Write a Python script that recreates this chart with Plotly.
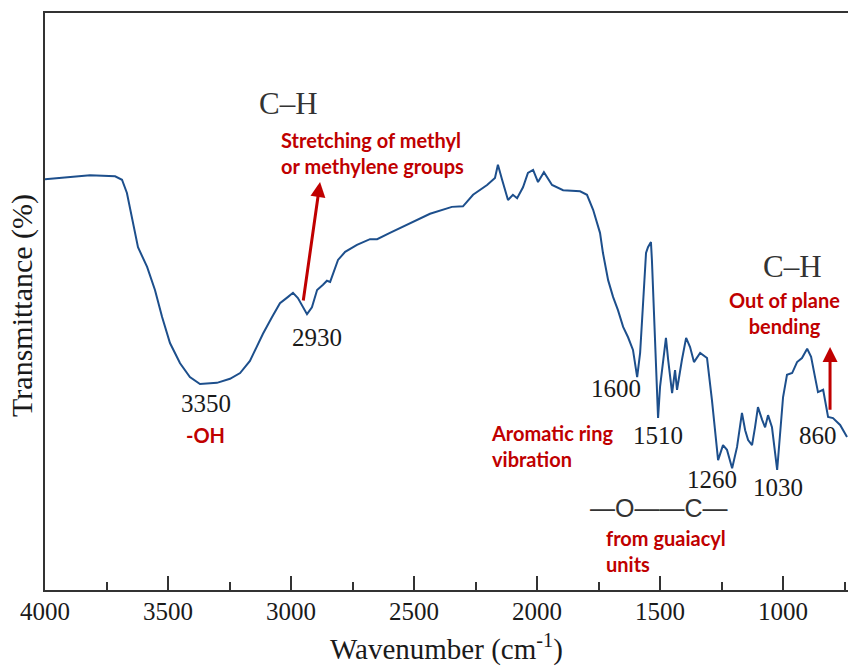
import plotly.graph_objects as go

# FTIR spectrum (wavenumber in cm-1, transmittance in arbitrary %)
wavenumber = [4000, 3898, 3817, 3715, 3687, 3667, 3646, 3622, 3585, 3553, 3524, 3492, 3451, 3411,
              3370, 3301, 3248, 3207, 3167, 3146, 3114, 3077, 3045, 3012, 2992, 2972, 2955, 2935,
              2915, 2894, 2870, 2854, 2841, 2829, 2809, 2780, 2732, 2679, 2650, 2598, 2516, 2435,
              2346, 2301, 2260, 2203, 2171, 2159, 2142, 2118, 2098, 2081, 2057, 2037, 2016, 1996,
              1972, 1939, 1894, 1825, 1797, 1772, 1744, 1732, 1711, 1691, 1671, 1650, 1630, 1610,
              1593, 1581, 1569, 1557, 1549, 1537, 1533, 1520, 1508, 1500, 1488, 1476, 1467, 1451,
              1439, 1431, 1411, 1394, 1378, 1362, 1337, 1309, 1289, 1264, 1244, 1228, 1207, 1187,
              1167, 1154, 1142, 1126, 1114, 1102, 1085, 1073, 1061, 1045, 1024, 1012, 1000, 984,
              963, 943, 923, 902, 886, 870, 858, 837, 817, 797, 768, 740]
transmittance = [71.2, 71.6, 71.9, 71.7, 71.1, 68.8, 64.1, 59.4, 56.0, 52.0, 47.3, 42.8, 39.3, 36.9,
                 35.7, 35.9, 36.6, 37.6, 39.7, 41.6, 44.4, 47.3, 49.7, 50.8, 51.5, 50.6, 49.4, 47.8,
                 49.0, 52.0, 52.9, 53.6, 53.4, 54.9, 57.2, 58.6, 59.8, 60.8, 60.8, 61.9, 63.6, 65.2,
                 66.4, 66.5, 68.5, 70.2, 71.4, 73.7, 71.1, 67.6, 68.5, 67.9, 69.8, 72.3, 72.8, 70.7,
                 72.4, 70.2, 69.3, 69.1, 68.5, 65.9, 61.9, 58.4, 53.7, 50.8, 48.5, 45.6, 43.8, 41.6,
                 36.9, 41.1, 49.7, 58.4, 59.4, 60.3, 57.2, 43.8, 29.8, 35.2, 39.9, 43.7, 39.9, 34.1,
                 38.1, 34.7, 39.9, 43.7, 42.1, 39.5, 41.1, 40.2, 32.9, 22.5, 25.1, 24.3, 21.1, 24.8,
                 30.7, 27.7, 26.0, 25.1, 28.2, 31.7, 29.5, 28.2, 30.3, 28.2, 20.8, 26.5, 33.4, 37.3,
                 37.6, 39.5, 40.2, 41.8, 40.4, 36.9, 34.3, 34.7, 30.0, 29.8, 28.6, 26.5]

tick_values = [4000, 3500, 3000, 2500, 2000, 1500, 1000]
tick_labels = ["4000", "3500", "3000", "2500", "2000", "1500", "1000"]

peak_labels = ["3350", "2930", "1600", "1510", "1260", "1030", "860"]
peak_label_x = [3346, 2894, 1679, 1508, 1289, 1020, 858]
peak_label_y = [32.4, 43.8, 35.0, 26.7, 19.2, 17.7, 26.7]

SERIF = "Liberation Serif"
SANS_RED = "Lato"
RED = "#C00000"
AX = "#333333"
TXT = "#1a1a1a"

fig = go.Figure()
fig.add_trace(go.Scatter(x=wavenumber, y=transmittance, mode="lines",
                         line=dict(color="#1d4f8c", width=2), showlegend=False,
                         hoverinfo="skip"))

ann = []
for t, x, y in zip(peak_labels, peak_label_x, peak_label_y):
    ann.append(dict(x=x, y=y, xref="x", yref="y", text=t, showarrow=False,
                    font=dict(family=SERIF, size=25, color=TXT)))

# x tick labels (serif), placed at the axis tick values
for v, t in zip(tick_values, tick_labels):
    ann.append(dict(x=v, y=-0.0364, xref="x", yref="paper", text=t, showarrow=False,
                    xanchor="center", yanchor="middle",
                    font=dict(family=SERIF, size=25, color=TXT)))

def red(text, x, y, xanchor="center", align="center"):
    return dict(x=x, y=y, xref="x", yref="y", text=text, showarrow=False,
                xanchor=xanchor, align=align,
                font=dict(family=SANS_RED, size=20, color=RED, weight="bold"))

ann += [
    dict(x=3012, y=84.4, xref="x", yref="y", text="C\u2013H", showarrow=False,
         font=dict(family=SERIF, size=31, color="#333333")),
    dict(x=963, y=56.0, xref="x", yref="y", text="C\u2013H", showarrow=False,
         font=dict(family=SERIF, size=31, color="#333333")),
    red("Stretching of methyl<br>or methylene groups", 3049, 75.8, "left", "left"),
    red("-OH", 3346, 26.9),
    red("Aromatic ring<br>vibration", 2195, 25.0, "left", "left"),
    red("from guaiacyl<br>units", 1728, 6.7, "left", "left"),
    red("Out of plane<br>bending", 996, 48.0),
    dict(x=1506, y=14.2, xref="x", yref="y", text="\u2014O\u2014\u2014C\u2014", showarrow=False,
         font=dict(family="Liberation Sans", size=25, color="#333333")),
    # arrows
    dict(x=2882, y=70.7, ax=2951, ay=49.9, xref="x", yref="y", axref="x", ayref="y",
         text="", showarrow=True, arrowhead=2, arrowsize=1, arrowwidth=3, arrowcolor=RED),
    dict(x=809, y=42.1, ax=809, ay=31.0, xref="x", yref="y", axref="x", ayref="y",
         text="", showarrow=True, arrowhead=2, arrowsize=1, arrowwidth=3, arrowcolor=RED),
    # axis titles
    dict(x=-0.0287, y=0.494, xref="paper", yref="paper", text="Transmittance (%)",
         textangle=-90, showarrow=False, xanchor="center", yanchor="middle",
         font=dict(family=SERIF, size=30, color=TXT)),
    dict(x=0.5, y=-0.135, xref="paper", yref="paper",
         text="Wavenumber (cm<sup>-1</sup>)", showarrow=False,
         xanchor="center", yanchor="bottom",
         font=dict(family=SERIF, size=29, color=TXT)),
]

fig.update_layout(
    width=848, height=668,
    margin=dict(l=45, r=0, t=13, b=78),
    paper_bgcolor="white", plot_bgcolor="white",
    annotations=ann,
    xaxis=dict(range=[4000, 736], showgrid=False, zeroline=False,
               showline=True, linecolor=AX, linewidth=2, mirror=True,
               ticks="inside", ticklen=14, tickwidth=2, tickcolor=AX,
               tickmode="array", tickvals=tick_values, showticklabels=False,
               minor=dict(ticks="inside", ticklen=8, tickwidth=2, tickcolor=AX, dtick=250,
                          showgrid=False)),
    yaxis=dict(range=[0, 100], showgrid=False, zeroline=False,
               showline=True, linecolor=AX, linewidth=2, mirror=False,
               ticks="", showticklabels=False),
)

fig.write_html("out.html")
